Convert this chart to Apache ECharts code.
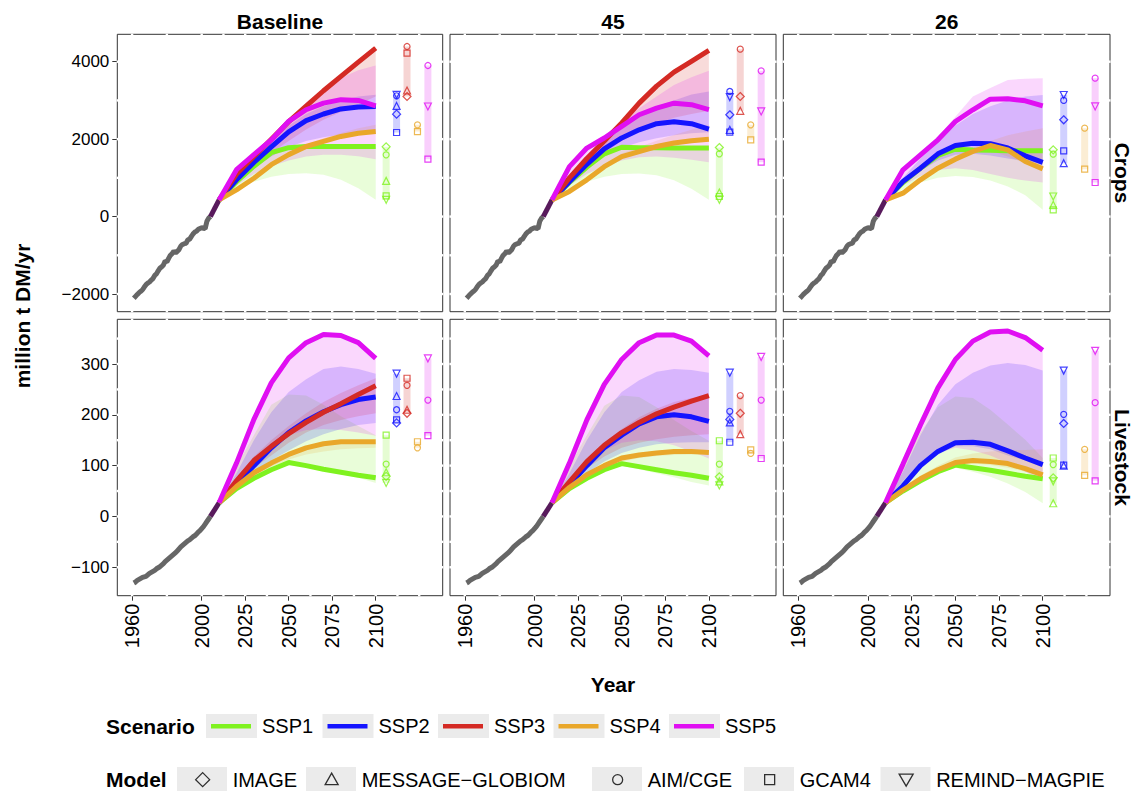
<!DOCTYPE html>
<html><head><meta charset="utf-8">
<script src="https://cdn.jsdelivr.net/npm/echarts@6/dist/echarts.min.js"></script>
<style>html,body{margin:0;padding:0;background:#fff}#c{width:1135px;height:793px}</style>
</head><body><div id="c"></div>
<script>
// ---------------- DATA ----------------
const scenarioNames = ['SSP1', 'SSP2', 'SSP3', 'SSP4', 'SSP5'];
const modelNames = ['IMAGE', 'MESSAGE\u2212GLOBIOM', 'AIM/CGE', 'GCAM4', 'REMIND\u2212MAGPIE'];
const facetNames = ['Baseline', '45', '26'];
const rowNames = ['Crops', 'Livestock'];
const xTickValues = [1960, 2000, 2025, 2050, 2075, 2100];
const cropsTickValues = [-2000, 0, 2000, 4000];
const livestockTickValues = [-100, 0, 100, 200, 300];
// positions of the (white) grid lines that cut the panel borders
const xGridValues = [1960, 1980, 2000, 2012.5, 2025, 2037.5, 2050, 2062.5, 2075, 2087.5, 2100, 2112.5, 2125];
const cropsGridValues = [-2000, -1000, 0, 1000, 2000, 3000, 4000];
const livestockGridValues = [-100, -50, 0, 50, 100, 150, 200, 250, 300, 350];

const histYears = [1961,1962,1963,1964,1965,1966,1967,1968,1969,1970,1971,1972,1973,1974,1975,1976,1977,1978,1979,1980,1981,1982,1983,1984,1985,1986,1987,1988,1989,1990,1991,1992,1993,1994,1995,1996,1997,1998,1999,2000,2001,2002,2003,2004,2005];
const cropsHist = [-2110,-2060,-2010,-1965,-1930,-1890,-1820,-1760,-1720,-1690,-1640,-1600,-1520,-1480,-1400,-1330,-1300,-1250,-1150,-1170,-1080,-1000,-960,-890,-940,-900,-850,-760,-720,-700,-690,-600,-590,-520,-450,-400,-380,-330,-310,-290,-300,-310,-120,-40,0];
const livestockHist = [-131,-129,-126,-124,-122,-120,-119,-118,-115,-112,-110,-108,-106,-103,-101,-99,-96,-93,-89,-86,-83,-80,-77,-74,-71,-68,-64,-60,-57,-54,-51,-48,-46,-43,-40,-38,-35,-31,-28,-24,-20,-15,-10,-5,0];

const commonYears = [2005, 2010];
const cropsCommon = [0, 430];
const livestockCommon = [0, 27];

const scenYears = [2010, 2020, 2030, 2040, 2050, 2060, 2070, 2080, 2090, 2100];
const markerYears = [2106, 2112, 2118, 2124, 2130];

// ----- Crops, Baseline -----
const cropsBaselineLine = [
  [430, 900, 1300, 1650, 1780, 1810, 1810, 1810, 1810, 1810],
  [430, 950, 1400, 1800, 2190, 2480, 2650, 2780, 2830, 2840],
  [430, 1100, 1550, 2000, 2450, 2850, 3250, 3620, 3990, 4350],
  [430, 690, 990, 1340, 1600, 1810, 1940, 2070, 2150, 2200],
  [430, 1210, 1600, 1980, 2460, 2760, 2930, 3020, 3000, 2860]
];
const cropsBaselineLow = [
  [430, 730, 900, 1030, 1100, 1120, 1080, 950, 730, 432],
  [430, 850, 1250, 1550, 1800, 1950, 2050, 2120, 2160, 2171],
  [430, 900, 1300, 1650, 1950, 2250, 2500, 2700, 2900, 3101],
  [430, 680, 980, 1320, 1570, 1780, 1920, 2040, 2130, 2196],
  [430, 800, 1100, 1300, 1450, 1550, 1600, 1600, 1560, 1483]
];
const cropsBaselineHigh = [
  [430, 920, 1320, 1660, 1800, 1820, 1820, 1820, 1810, 1801],
  [430, 1000, 1500, 1950, 2350, 2650, 2850, 3000, 3100, 3144],
  [430, 1120, 1580, 2030, 2480, 2900, 3300, 3680, 4040, 4393],
  [430, 710, 1020, 1370, 1640, 1860, 2020, 2160, 2280, 2370],
  [430, 1250, 1650, 2050, 2500, 2950, 3300, 3580, 3780, 3902]
];
// model values in 2100 : [IMAGE, MESSAGE-GLOBIOM, AIM/CGE, GCAM4, REMIND-MAGPIE]
const cropsBaselineModels = [
  [1801, 922, 1594, 535, 432],
  [2646, 2858, 3120, 2171, 3144],
  [3101, 3256, 4393, 4221, null],
  [null, null, 2370, 2196, null],
  [null, null, 3902, 1483, 2843]
];

// ----- Crops, 45 -----
const crops45Line = [
  [430, 880, 1280, 1620, 1790, 1780, 1775, 1770, 1770, 1770],
  [430, 900, 1350, 1750, 2030, 2240, 2400, 2450, 2400, 2260],
  [430, 1000, 1500, 1950, 2420, 2930, 3370, 3730, 4010, 4290],
  [430, 650, 950, 1290, 1550, 1680, 1810, 1900, 1960, 2000],
  [430, 1290, 1770, 2030, 2330, 2630, 2800, 2930, 2890, 2760]
];
const crops45Low = [
  [430, 720, 900, 1030, 1100, 1110, 1070, 940, 720, 432],
  [430, 850, 1250, 1550, 1780, 1920, 2020, 2100, 2150, 2180],
  [430, 900, 1300, 1650, 1950, 2200, 2400, 2550, 2650, 2732],
  [430, 640, 940, 1280, 1540, 1670, 1800, 1880, 1950, 1983],
  [430, 800, 1100, 1300, 1450, 1530, 1550, 1520, 1470, 1405]
];
const crops45High = [
  [430, 900, 1300, 1640, 1800, 1800, 1790, 1790, 1790, 1784],
  [430, 1000, 1500, 1950, 2300, 2600, 2850, 3000, 3150, 3231],
  [430, 1020, 1520, 1970, 2440, 2960, 3390, 3750, 4040, 4325],
  [430, 680, 990, 1350, 1630, 1800, 1960, 2110, 2240, 2370],
  [430, 1300, 1780, 2100, 2450, 2800, 3100, 3400, 3600, 3765]
];
const crops45Models = [
  [1784, 622, 1621, 518, 432],
  [2629, 2241, 3231, 2180, 3085],
  [3102, 2732, 4325, null, null],
  [null, null, 2370, 1983, null],
  [null, null, 3765, 1405, 2715]
];

// ----- Crops, 26 -----
const crops26Line = [
  [430, 880, 1250, 1580, 1740, 1720, 1710, 1700, 1700, 1700],
  [430, 906, 1250, 1620, 1836, 1896, 1880, 1770, 1570, 1400],
  null,
  [430, 604, 949, 1250, 1483, 1681, 1836, 1724, 1423, 1233],
  [430, 1207, 1595, 1983, 2456, 2758, 3033, 3042, 2990, 2861]
];
const crops26Low = [
  [430, 700, 880, 1000, 1050, 1020, 930, 780, 550, 174],
  [430, 850, 1180, 1450, 1600, 1620, 1580, 1500, 1430, 1380],
  null,
  [430, 600, 940, 1240, 1470, 1660, 1700, 1550, 1380, 1225],
  [430, 800, 1050, 1200, 1250, 1200, 1100, 1000, 930, 880]
];
const crops26High = [
  [430, 900, 1280, 1600, 1760, 1760, 1740, 1730, 1725, 1724],
  [430, 1000, 1500, 1950, 2350, 2650, 2850, 3000, 3100, 3140],
  null,
  [430, 640, 990, 1300, 1560, 1780, 1950, 2100, 2200, 2284],
  [430, 1250, 1650, 2050, 2580, 3100, 3320, 3530, 3560, 3576]
];
const crops26Models = [
  [1724, 303, 1612, 174, 518],
  [2500, 1380, 3000, 1698, 3140],
  null,
  [null, null, 2284, 1225, null],
  [null, null, 3576, 880, 2844]
];

// ----- Livestock, Baseline -----
const livestockBaselineLine = [
  [27, 55, 75, 92, 106, 100, 93, 87, 81, 76],
  [27, 62, 100, 135, 165, 188, 206, 220, 230, 235],
  [27, 70, 110, 138, 163, 185, 205, 222, 240, 257],
  [27, 59, 86, 105, 122, 135, 143, 147, 147, 147],
  [27, 105, 191, 263, 312, 342, 358, 356, 342, 311]
];
const livestockBaselineLow = [
  [27, 52, 72, 90, 104, 97, 90, 83, 76, 66],
  [27, 55, 85, 110, 130, 148, 162, 172, 180, 184],
  [27, 60, 95, 120, 145, 165, 180, 190, 197, 203],
  [27, 55, 80, 98, 112, 122, 128, 132, 134, 135],
  [27, 70, 110, 140, 160, 170, 172, 170, 165, 159]
];
const livestockBaselineHigh = [
  [27, 100, 160, 220, 240, 238, 220, 197, 178, 160],
  [27, 85, 150, 205, 245, 270, 290, 295, 290, 281],
  [27, 75, 118, 150, 178, 203, 225, 243, 258, 272],
  [27, 60, 87, 107, 123, 136, 144, 147, 147, 147],
  [27, 105, 191, 263, 312, 342, 358, 356, 342, 311]
];
const livestockBaselineModels = [
  [79, 87, 103, 160, 66],
  [184, 237, 210, 190, 281],
  [203, 210, 258, 272, null],
  [null, null, 135, 147, null],
  [null, null, 229, 159, 311]
];

// ----- Livestock, 45 -----
const livestock45Line = [
  [27, 55, 75, 92, 104, 98, 92, 86, 81, 75],
  [27, 62, 100, 135, 160, 182, 196, 200, 196, 187],
  [27, 68, 108, 140, 165, 185, 202, 215, 227, 238],
  [27, 57, 82, 100, 115, 121, 125, 128, 128, 126],
  [27, 105, 190, 260, 309, 342, 357, 357, 345, 316]
];
const livestock45Low = [
  [27, 52, 72, 88, 100, 93, 85, 77, 68, 61],
  [27, 55, 85, 108, 125, 135, 142, 145, 146, 146],
  [27, 60, 95, 118, 135, 145, 152, 157, 160, 162],
  [27, 55, 78, 95, 108, 115, 119, 121, 122, 124],
  [27, 70, 105, 130, 145, 150, 148, 140, 128, 114]
];
const livestock45High = [
  [27, 100, 160, 218, 238, 235, 215, 190, 168, 149],
  [27, 85, 150, 205, 245, 268, 285, 290, 288, 283],
  [27, 72, 112, 145, 172, 195, 212, 225, 233, 238],
  [27, 60, 85, 104, 118, 125, 129, 131, 131, 131],
  [27, 105, 190, 260, 309, 342, 357, 357, 345, 316]
];
const livestock45Models = [
  [78, 69, 103, 149, 61],
  [191, 185, 207, 146, 283],
  [203, 162, 238, null, null],
  [null, null, 124, 131, null],
  [null, null, 229, 114, 314]
];

// ----- Livestock, 26 -----
const livestock26Line = [
  [27, 50, 70, 88, 101, 96, 91, 85, 79, 74],
  [27, 60, 100, 128, 145, 146, 142, 129, 115, 102],
  null,
  [27, 52, 74, 92, 106, 110, 108, 104, 94, 82],
  [27, 103, 180, 253, 309, 345, 363, 365, 352, 327]
];
const livestock26Low = [
  [27, 48, 68, 84, 96, 88, 78, 65, 48, 26],
  [27, 58, 95, 122, 138, 138, 132, 120, 110, 100],
  null,
  [27, 50, 72, 88, 100, 104, 101, 96, 88, 81],
  [27, 70, 105, 125, 135, 130, 120, 105, 88, 70]
];
const livestock26High = [
  [27, 100, 165, 215, 236, 233, 210, 181, 151, 115],
  [27, 88, 160, 220, 260, 283, 297, 302, 298, 287],
  null,
  [27, 55, 80, 100, 116, 124, 128, 130, 131, 132],
  [27, 103, 180, 253, 309, 345, 363, 365, 352, 327]
];
const livestock26Models = [
  [76, 26, 102, 115, 69],
  [183, 100, 201, 101, 287],
  null,
  [null, null, 132, 81, null],
  [null, null, 224, 70, 326]
];

// ---------------- STYLE ----------------
const FONT = '"Liberation Sans", Arial, Helvetica, sans-serif';
const scenarioColors = ['#7ff21f', '#1414ff', '#d42a24', '#e9a72a', '#e00ff2'];
const histColor = '#666666';
const commonColor = '#581a5c';
const modelSymbols = ['diamond', 'triangle', 'circle', 'rect', 'triangle'];
const modelRotate = [0, 0, 0, 0, 180];
const modelSizes = [8, 7, 6, 6, 7];

const colLeft = [117.3, 450, 783.3];
const colWidth = [325.4, 326, 326.7];
const rowTop = [34.3, 319.3];
const rowHeight = [277.4, 276.4];
const xMin = 1951.5, xMax = 2138.5;
const yRanges = [[-2457, 4708], [-156, 388]];

const panels = [
  {line: cropsBaselineLine, low: cropsBaselineLow, high: cropsBaselineHigh, models: cropsBaselineModels, hist: cropsHist, common: cropsCommon},
  {line: crops45Line, low: crops45Low, high: crops45High, models: crops45Models, hist: cropsHist, common: cropsCommon},
  {line: crops26Line, low: crops26Low, high: crops26High, models: crops26Models, hist: cropsHist, common: cropsCommon},
  {line: livestockBaselineLine, low: livestockBaselineLow, high: livestockBaselineHigh, models: livestockBaselineModels, hist: livestockHist, common: livestockCommon},
  {line: livestock45Line, low: livestock45Low, high: livestock45High, models: livestock45Models, hist: livestockHist, common: livestockCommon},
  {line: livestock26Line, low: livestock26Low, high: livestock26High, models: livestock26Models, hist: livestockHist, common: livestockCommon}
];
const yTickSets = [cropsTickValues, livestockTickValues];
const yGridSets = [cropsGridValues, livestockGridValues];

function fmtNum(v) { return v < 0 ? '\u2212' + (-v) : String(v); }

function bandSeries(p, s, low, high) {
  const data = scenYears.map((y, k) => [y, low[k], high[k]]);
  return {type: 'custom', name: scenarioNames[s] + ' range', xAxisIndex: p, yAxisIndex: p, silent: true, z: 1,
    data: data, encode: {x: 0, y: [1, 2]},
    renderItem: function (params, api) {
      if (params.dataIndex !== 0) return null;
      const pts = [];
      for (let k = 0; k < data.length; k++) pts.push(api.coord([data[k][0], data[k][1]]));
      for (let k = data.length - 1; k >= 0; k--) pts.push(api.coord([data[k][0], data[k][2]]));
      return {type: 'polygon', shape: {points: pts}, style: {fill: scenarioColors[s], opacity: 0.17}};
    }};
}

const grids = [], xAxes = [], yAxes = [], series = [];
panels.forEach((P, p) => {
  const r = Math.floor(p / 3), c = p % 3;
  const yMin = yRanges[r][0], yMax = yRanges[r][1];
  grids.push({left: colLeft[c], top: rowTop[r], width: colWidth[c], height: rowHeight[r],
    show: true, borderColor: '#333', borderWidth: 1, backgroundColor: 'transparent'});
  xAxes.push({gridIndex: p, type: 'value', min: xMin, max: xMax,
    axisLine: {show: false, onZero: false}, splitLine: {show: false},
    axisTick: {show: r === 1, length: 5, lineStyle: {color: '#333', width: 1}, customValues: xTickValues},
    axisLabel: {show: r === 1, customValues: xTickValues, rotate: 90, margin: 8, fontSize: 20,
      color: '#000', fontFamily: FONT, formatter: v => String(v)}});
  yAxes.push({gridIndex: p, type: 'value', min: yMin, max: yMax,
    axisLine: {show: false, onZero: false}, splitLine: {show: false},
    axisTick: {show: c === 0, length: 5, lineStyle: {color: '#333', width: 1}, customValues: yTickSets[r]},
    axisLabel: {show: c === 0, customValues: yTickSets[r], margin: 8, fontSize: 17,
      color: '#000', fontFamily: FONT, formatter: fmtNum}});

  // bands
  for (let s = 0; s < 5; s++) {
    if (!P.low[s]) continue;
    series.push(bandSeries(p, s, P.low[s], P.high[s]));
  }
  // model range bars
  for (let s = 0; s < 5; s++) {
    if (!P.models[s]) continue;
    const vals = P.models[s].filter(v => v != null);
    series.push({type: 'line', name: scenarioNames[s] + ' models', xAxisIndex: p, yAxisIndex: p,
      symbol: 'none', silent: true,
      lineStyle: {width: 7, color: scenarioColors[s], opacity: 0.2, cap: 'butt'},
      data: [[markerYears[s], Math.min(...vals)], [markerYears[s], Math.max(...vals)]], z: 2});
  }
  // history
  series.push({type: 'line', name: 'History', xAxisIndex: p, yAxisIndex: p, symbol: 'none', silent: true,
    lineStyle: {width: 5, color: histColor}, data: histYears.map((y, k) => [y, P.hist[k]]), z: 3});
  series.push({type: 'line', name: 'Common', xAxisIndex: p, yAxisIndex: p, symbol: 'none', silent: true,
    lineStyle: {width: 5, color: commonColor}, data: commonYears.map((y, k) => [y, P.common[k]]), z: 3});
  // scenario lines
  for (let s = 0; s < 5; s++) {
    if (!P.line[s]) continue;
    series.push({type: 'line', name: scenarioNames[s], xAxisIndex: p, yAxisIndex: p, symbol: 'none', silent: true,
      color: scenarioColors[s], lineStyle: {width: 5, color: scenarioColors[s]},
      data: scenYears.map((y, k) => [y, P.line[s][k]]), z: 4});
  }
  // model markers
  for (let m = 0; m < 5; m++) {
    const pts = [];
    for (let s = 0; s < 5; s++) {
      if (!P.models[s] || P.models[s][m] == null) continue;
      pts.push({value: [markerYears[s], P.models[s][m]], itemStyle: {borderColor: scenarioColors[s]}});
    }
    series.push({type: 'scatter', name: modelNames[m], xAxisIndex: p, yAxisIndex: p, silent: true,
      symbol: modelSymbols[m], symbolRotate: modelRotate[m], symbolSize: modelSizes[m],
      itemStyle: {color: 'transparent', borderWidth: 1.2}, data: pts, z: 5});
  }
  // white grid-line cuts on the panel border
  series.push({type: 'custom', name: 'xgrid', xAxisIndex: p, yAxisIndex: p, silent: true, z: 20, clip: false,
    data: xGridValues.map(v => [v, yMin]), encode: {x: 0, y: 1},
    renderItem: function (params, api) {
      const v = api.value(0);
      const t = api.coord([v, yMax]), b = api.coord([v, yMin]);
      return {type: 'group', children: [
        {type: 'rect', shape: {x: t[0] - 1.2, y: t[1] - 0.6, width: 2.4, height: 2.2}, style: {fill: '#fff'}},
        {type: 'rect', shape: {x: b[0] - 1.2, y: b[1] - 1.6, width: 2.4, height: 2.2}, style: {fill: '#fff'}}]};
    }});
  series.push({type: 'custom', name: 'ygrid', xAxisIndex: p, yAxisIndex: p, silent: true, z: 20, clip: false,
    data: yGridSets[r].map(v => [xMin, v]), encode: {x: 0, y: 1},
    renderItem: function (params, api) {
      const v = api.value(1);
      const lft = api.coord([xMin, v]), rgt = api.coord([xMax, v]);
      return {type: 'group', children: [
        {type: 'rect', shape: {x: lft[0] - 0.6, y: lft[1] - 1.2, width: 2.2, height: 2.4}, style: {fill: '#fff'}},
        {type: 'rect', shape: {x: rgt[0] - 1.6, y: rgt[1] - 1.2, width: 2.2, height: 2.4}, style: {fill: '#fff'}}]};
    }});
});

// ---------------- LEGENDS ----------------
const lineIcon = 'path://M0,0M51,24M5,10L45,10L45,14.5L5,14.5Z';
const modelIcons = [
  'path://M0,0M50,24M25,5L32,12L25,19L18,12Z',
  'path://M0,0M50,24M25,5.5L31.5,17L18.5,17Z',
  'path://M0,0M50,24M30,12A5,5,0,1,1,20,12A5,5,0,1,1,30,12Z',
  'path://M0,0M50,24M20,7L30,7L30,17L20,17Z',
  'path://M0,0M50,24M18,6.5L32,6.5L25,18.5Z'
];
const scenarioBoxLeft = [206, 322.5, 438, 553.5, 669];
const modelBoxLeft = [177, 306, 592, 744, 880.5];
const legends = [];
const graphics = [];
scenarioNames.forEach((n, s) => {
  legends.push({data: [{name: n, icon: lineIcon, itemStyle: {color: scenarioColors[s], borderWidth: 0}}],
    left: scenarioBoxLeft[s], top: 714, padding: 0, itemWidth: 51, itemHeight: 24, selectedMode: false,
    textStyle: {fontSize: 20, color: '#000', fontFamily: FONT}});
  graphics.push({type: 'rect', left: scenarioBoxLeft[s], top: 714, z: -10,
    shape: {width: 51, height: 24}, style: {fill: '#ebebeb'}});
});
modelNames.forEach((n, m) => {
  legends.push({data: [{name: n, icon: modelIcons[m], itemStyle: {color: 'transparent', borderColor: '#000', borderWidth: 1.3}}],
    left: modelBoxLeft[m], top: 767, padding: 0, itemWidth: 50, itemHeight: 24, selectedMode: false,
    textStyle: {fontSize: 20, color: '#000', fontFamily: FONT}});
  graphics.push({type: 'rect', left: modelBoxLeft[m], top: 767, z: -10,
    shape: {width: 50, height: 24}, style: {fill: '#ebebeb'}});
});

function txt(text, x, y, size, rot) {
  return {type: 'text', x: x, y: y, rotation: rot || 0, z: 10,
    style: {text: text, fontSize: size, fontWeight: 'bold', fontFamily: FONT, fill: '#000',
      align: 'center', verticalAlign: 'middle'}};
}
facetNames.forEach((n, c) => graphics.push(txt(n, colLeft[c] + colWidth[c] / 2, 21, 21)));
rowNames.forEach((n, r) => graphics.push(txt(n, 1122, rowTop[r] + rowHeight[r] / 2, 21, -Math.PI / 2)));
graphics.push(txt('million t DM/yr', 22, 316, 21, Math.PI / 2));
graphics.push(txt('Year', 613, 684, 21));
graphics.push({type: 'text', x: 106, y: 726, z: 10, style: {text: 'Scenario', fontSize: 21, fontWeight: 'bold',
  fontFamily: FONT, fill: '#000', align: 'left', verticalAlign: 'middle'}});
graphics.push({type: 'text', x: 106, y: 779, z: 10, style: {text: 'Model', fontSize: 21, fontWeight: 'bold',
  fontFamily: FONT, fill: '#000', align: 'left', verticalAlign: 'middle'}});

const chart = echarts.init(document.getElementById('c'), null, {renderer: 'svg', width: 1135, height: 793});
chart.setOption({
  animation: false,
  backgroundColor: '#fff',
  grid: grids, xAxis: xAxes, yAxis: yAxes,
  legend: legends,
  graphic: {elements: graphics},
  series: series
});
</script></body></html>
